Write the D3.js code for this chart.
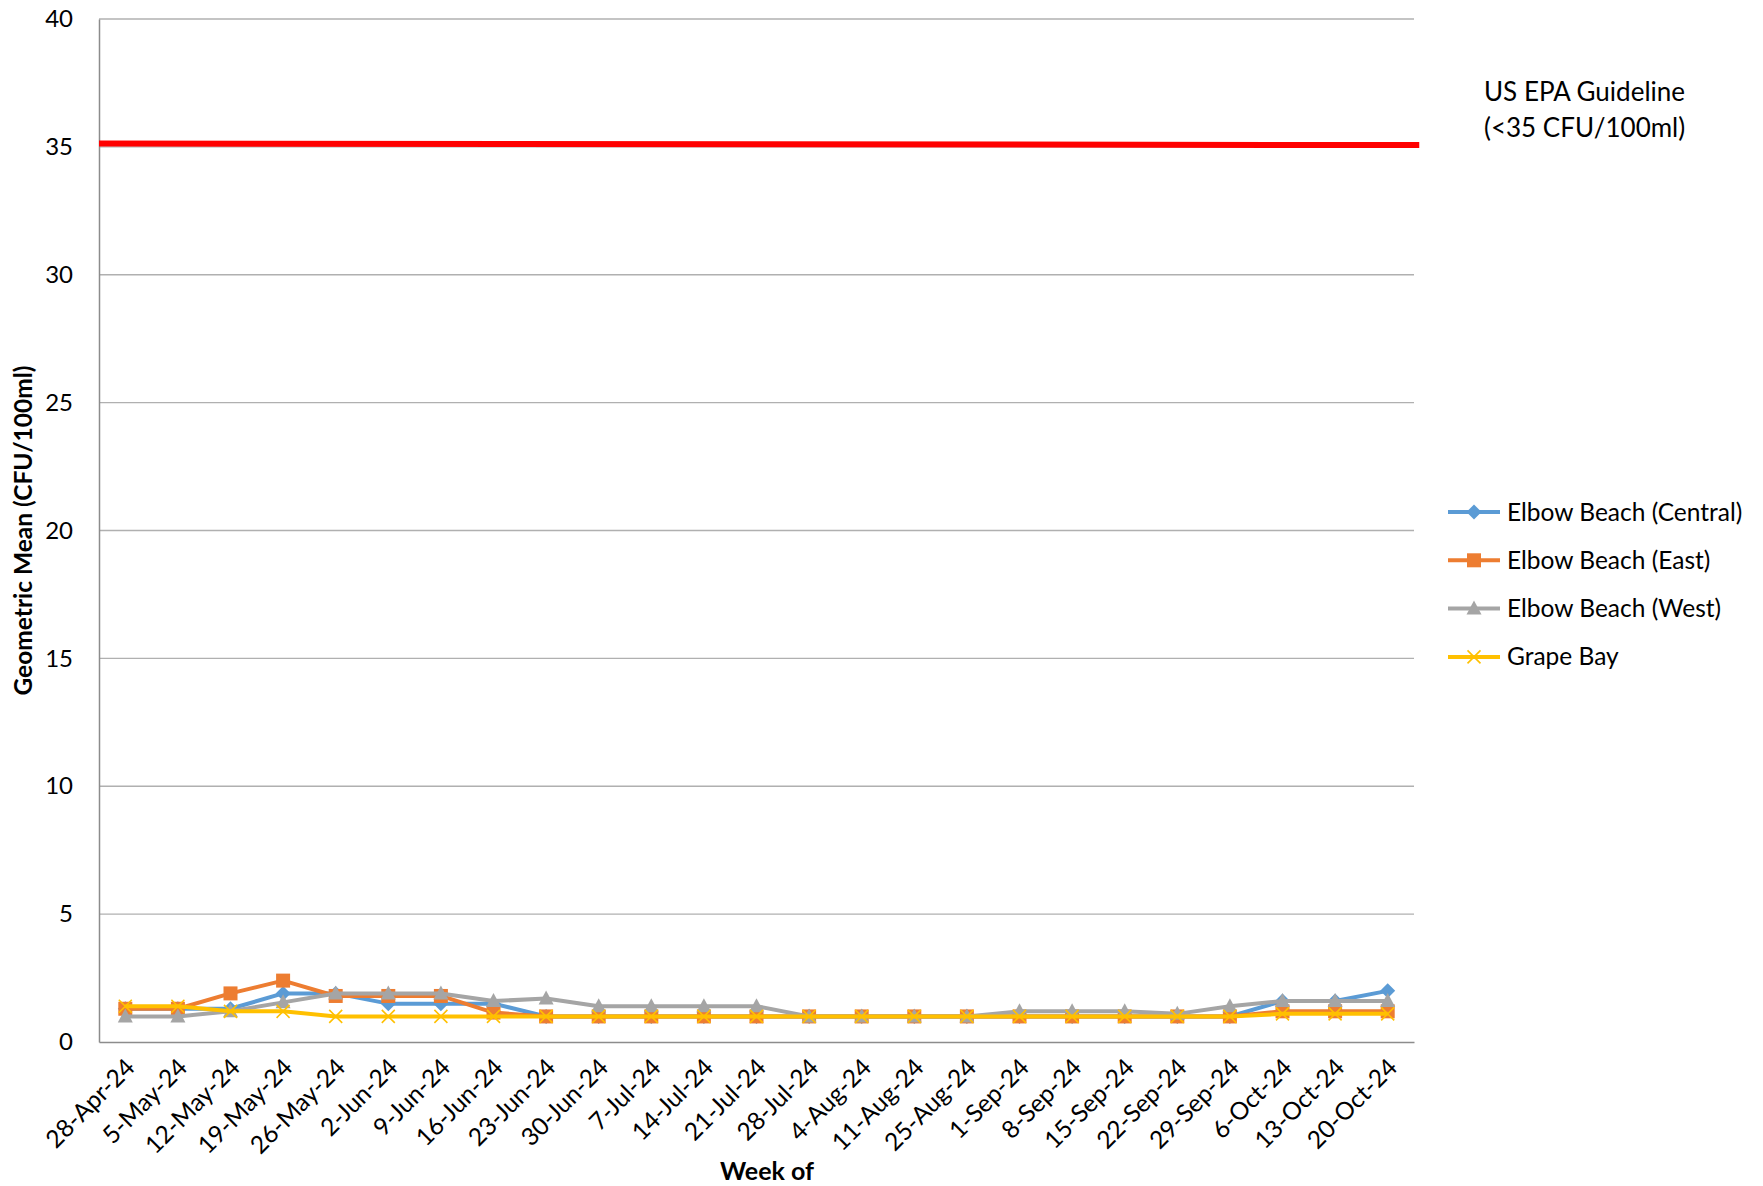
<!DOCTYPE html>
<html>
<head>
<meta charset="utf-8">
<script src="https://d3js.org/d3.v7.min.js"></script>
<style>
  body { margin: 0; background: #fff; }
  text { font-family: Lato, "Open Sans", sans-serif; fill: #000; }
</style>
</head>
<body>
<div id="chart"></div>
<script>
// week labels (x categories)
const weeks = ["28-Apr-24", "5-May-24", "12-May-24", "19-May-24", "26-May-24", "2-Jun-24", "9-Jun-24",
  "16-Jun-24", "23-Jun-24", "30-Jun-24", "7-Jul-24", "14-Jul-24", "21-Jul-24", "28-Jul-24", "4-Aug-24",
  "11-Aug-24", "25-Aug-24", "1-Sep-24", "8-Sep-24", "15-Sep-24", "22-Sep-24", "29-Sep-24", "6-Oct-24",
  "13-Oct-24", "20-Oct-24"];

// geometric means per site
const central = [1.3, 1.3, 1.3, 1.9, 1.9, 1.5, 1.5, 1.5, 1.0, 1.0, 1.0, 1.0, 1.0, 1.0, 1.0, 1.0, 1.0,
  1.0, 1.0, 1.0, 1.0, 1.0, 1.6, 1.6, 2.0];
const east = [1.3, 1.3, 1.9, 2.4, 1.8, 1.8, 1.8, 1.15, 1.0, 1.0, 1.0, 1.0, 1.0, 1.0, 1.0, 1.0, 1.0,
  1.0, 1.0, 1.0, 1.0, 1.0, 1.2, 1.2, 1.2];
const west = [1.0, 1.0, 1.2, 1.55, 1.9, 1.9, 1.9, 1.6, 1.7, 1.4, 1.4, 1.4, 1.4, 1.0, 1.0, 1.0, 1.0,
  1.2, 1.2, 1.2, 1.1, 1.4, 1.6, 1.6, 1.6];
const grape = [1.4, 1.4, 1.2, 1.2, 1.0, 1.0, 1.0, 1.0, 1.0, 1.0, 1.0, 1.0, 1.0, 1.0, 1.0, 1.0, 1.0,
  1.0, 1.0, 1.0, 1.0, 1.0, 1.1, 1.1, 1.1];

// guideline line, start and end value
const epa = [35.13, 35.07];

const yTicks = [0, 5, 10, 15, 20, 25, 30, 35, 40];

const series = [
  { name: "Elbow Beach (Central)", values: central, color: "#5B9BD5", marker: "diamond" },
  { name: "Elbow Beach (East)", values: east, color: "#ED7D31", marker: "square" },
  { name: "Elbow Beach (West)", values: west, color: "#A5A5A5", marker: "triangle" },
  { name: "Grape Bay", values: grape, color: "#FFC000", marker: "cross" }
];

const width = 1763, height = 1186;
const margin = { top: 19, left: 99, right: 349, bottom: 144 };
const plotW = width - margin.left - margin.right;
const plotH = height - margin.top - margin.bottom;

const svg = d3.select("#chart").append("svg")
  .attr("width", width)
  .attr("height", height);

const g = svg.append("g").attr("transform", `translate(${margin.left},${margin.top})`);

const x = d3.scaleBand().domain(weeks).range([0, plotW]);
const y = d3.scaleLinear().domain([0, 40]).range([plotH, 0]);

// gridlines
g.selectAll(".grid")
  .data(yTicks.filter(d => d > 0))
  .enter()
  .append("line")
  .attr("x1", 0).attr("x2", plotW)
  .attr("y1", d => y(d)).attr("y2", d => y(d))
  .attr("stroke", "#b0b0b0")
  .attr("stroke-width", 1.3);

// y axis
const yAxis = g.append("g").call(d3.axisLeft(y).tickValues(yTicks).tickSize(0).tickPadding(26));
yAxis.select(".domain").attr("stroke", "#8c8c8c").attr("stroke-width", 1.5);
yAxis.selectAll("text").style("font-size", "24px").style("font-family", "Lato");

// x axis
const xAxis = g.append("g")
  .attr("transform", `translate(0,${plotH})`)
  .call(d3.axisBottom(x).tickSize(0));
xAxis.select(".domain").attr("stroke", "#8c8c8c").attr("stroke-width", 1.5);
xAxis.selectAll("text")
  .style("font-size", "24.5px")
  .style("font-family", "Lato")
  .attr("text-anchor", "end")
  .attr("dy", null)
  .attr("y", 0)
  .attr("transform", "translate(11,27) rotate(-45)");

// red guideline
const xLin = d3.scaleLinear().domain([0, weeks.length]).range([0, plotW]);
g.append("line")
  .attr("x1", xLin(0)).attr("x2", xLin(weeks.length + 0.1))
  .attr("y1", y(epa[0])).attr("y2", y(epa[1]))
  .attr("stroke", "#FF0000")
  .attr("stroke-width", 6);

const cx = (d, i) => x(weeks[i]) + x.bandwidth() / 2;

function drawMarker(sel, type, color) {
  if (type === "diamond") {
    sel.append("path").attr("d", "M0,-7.5L7.5,0L0,7.5L-7.5,0Z").attr("fill", color);
  } else if (type === "square") {
    sel.append("rect").attr("x", -7).attr("y", -7).attr("width", 14).attr("height", 14).attr("fill", color);
  } else if (type === "triangle") {
    sel.append("path").attr("d", "M0,-8L7.5,6L-7.5,6Z").attr("fill", color);
  } else {
    sel.append("path").attr("d", "M-6.5,-6.5L6.5,6.5M-6.5,6.5L6.5,-6.5")
      .attr("stroke", color).attr("stroke-width", 1.6).attr("fill", "none");
  }
}

const line = d3.line().x(cx).y(d => y(d));

series.forEach(s => {
  const sg = g.append("g");
  sg.append("path")
    .datum(s.values)
    .attr("fill", "none")
    .attr("stroke", s.color)
    .attr("stroke-width", 4)
    .attr("stroke-linejoin", "round")
    .attr("d", line);
  sg.selectAll(".m")
    .data(s.values)
    .enter()
    .append("g")
    .attr("transform", (d, i) => `translate(${cx(d, i)},${y(d)})`)
    .each(function () { drawMarker(d3.select(this), s.marker, s.color); });
});

// axis titles
svg.append("text")
  .attr("transform", `translate(32,${margin.top + plotH / 2}) rotate(-90)`)
  .attr("text-anchor", "middle")
  .style("font-size", "24.5px")
  .style("font-weight", "bold")
  .text("Geometric Mean (CFU/100ml)");

svg.append("text")
  .attr("x", 767).attr("y", 1180)
  .attr("text-anchor", "middle")
  .style("font-size", "25px")
  .style("font-weight", "bold")
  .text("Week of");

// guideline note
const note = svg.append("text").style("font-size", "26px");
note.append("tspan").attr("x", 1484).attr("y", 101).text("US EPA Guideline");
note.append("tspan").attr("x", 1484).attr("y", 137).text("(<35 CFU/100ml)");

// legend
const legend = svg.append("g").attr("transform", "translate(1448,512)");
series.forEach((s, i) => {
  const lg = legend.append("g").attr("transform", `translate(0,${i * 48.3})`);
  lg.append("line").attr("x1", 0).attr("x2", 52).attr("y1", 0).attr("y2", 0)
    .attr("stroke", s.color).attr("stroke-width", 4);
  const mg = lg.append("g").attr("transform", "translate(26,0)");
  drawMarker(mg, s.marker, s.color);
  lg.append("text").attr("x", 59).attr("y", 8.5).style("font-size", "24.5px").text(s.name);
});
</script>
</body>
</html>
